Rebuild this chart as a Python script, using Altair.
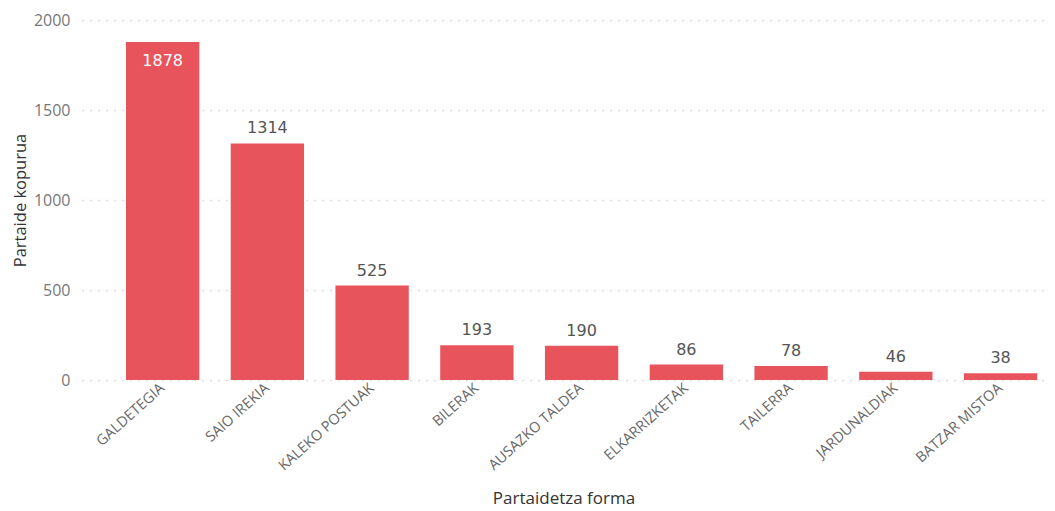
import altair as alt
import pandas as pd

categories = ["GALDETEGIA", "SAIO IREKIA", "KALEKO POSTUAK", "BILERAK", "AUSAZKO TALDEA",
              "ELKARRIZKETAK", "TAILERRA", "JARDUNALDIAK", "BATZAR MISTOA"]
values = [1878, 1314, 525, 193, 190, 86, 78, 46, 38]
inside_label = [True, False, False, False, False, False, False, False, False]

df = pd.DataFrame({"forma": categories, "kopurua": values, "inside": inside_label})

x = alt.X("forma:N", sort=categories,
          scale=alt.Scale(paddingInner=0.3, paddingOuter=0.247, align=0.85),
          axis=alt.Axis(title="Partaidetza forma", labelAngle=-42, labelAlign="right",
                        labelBaseline="middle", labelFont="Open Sans", labelFontSize=14.5,
                        labelColor="#666666", labelPadding=6, ticks=False, domain=False,
                        titleFont="Open Sans", titleFontSize=17, titleFontWeight="normal",
                        titleColor="#333333", titlePadding=18))
y = alt.Y("kopurua:Q", scale=alt.Scale(domain=[0, 2000]),
          axis=alt.Axis(title="Partaide kopurua", values=[0, 500, 1000, 1500, 2000],
                        format="d",
                        labelFont="Open Sans", labelFontSize=16, labelColor="#777777",
                        labelPadding=12, ticks=False, domain=False,
                        grid=True, gridColor="#c0c0c0", gridDash=[1, 7], gridWidth=1.3,
                        titleFont="Open Sans", titleFontSize=16.5, titleFontWeight="normal",
                        titleColor="#333333", titlePadding=5))

base = alt.Chart(df).encode(x=x, y=y)

bars = base.mark_bar(color="#E8545C")

labels_out = base.transform_filter("!datum.inside").mark_text(
    dy=-7, font="DejaVu Sans", fontSize=16, color="#555555", baseline="bottom"
).encode(text="kopurua:Q")

labels_in = base.transform_filter("datum.inside").mark_text(
    dy=11, font="DejaVu Sans", fontSize=16, color="#ffffff", baseline="top"
).encode(text="kopurua:Q")

chart = (bars + labels_out + labels_in).properties(
    width=963, height=360,
    autosize=alt.AutoSizeParams(type="none"),
    padding={"left": 74, "top": 12, "right": 0, "bottom": 150},
).configure_view(stroke=None)

chart.save("out.html", embed_options={"renderer": "svg", "actions": False})
